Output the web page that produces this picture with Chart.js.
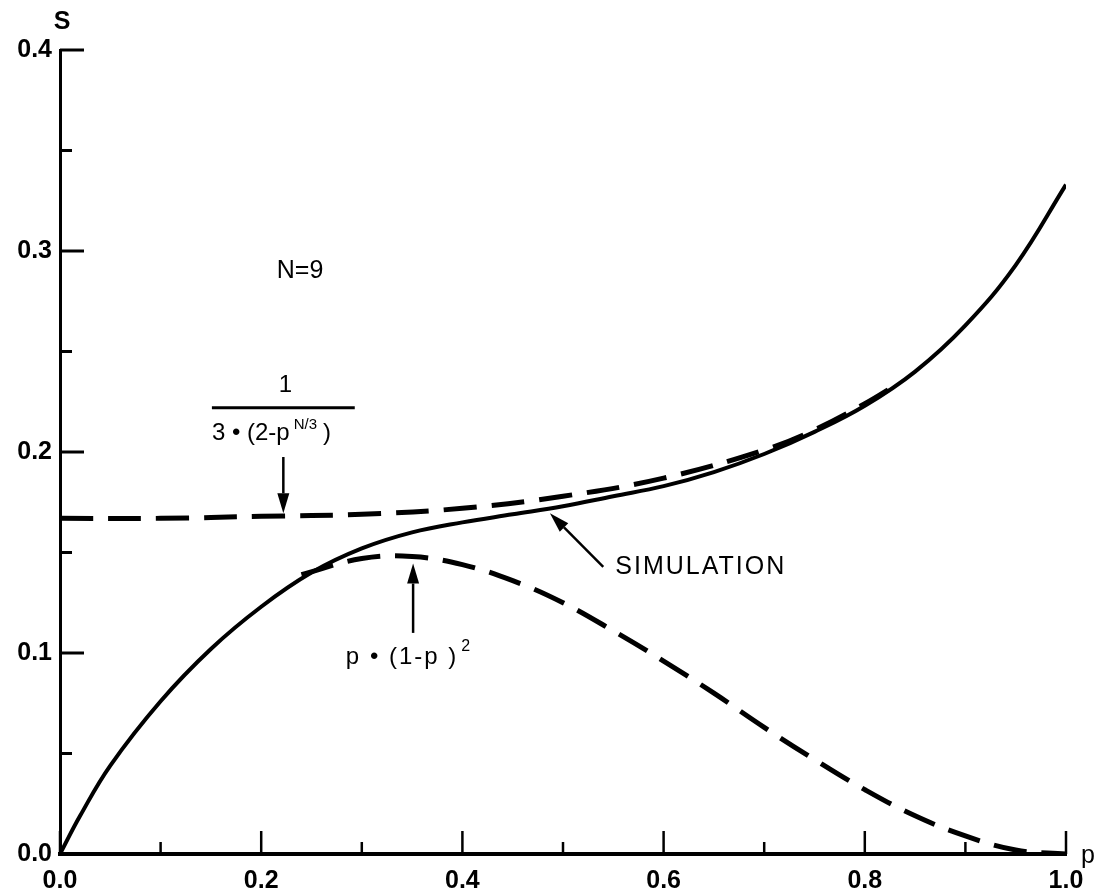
<!DOCTYPE html>
<html>
<head>
<meta charset="utf-8">
<script src="https://cdn.jsdelivr.net/npm/chart.js@4/dist/chart.umd.min.js"></script>
<style>
  body { margin: 0; background: #fff; }
  #wrap { width: 1108px; height: 895px; }
</style>
</head>
<body>
<div id="wrap"><canvas id="chart"></canvas></div>
<script>
// simulation curve (solid)
const simP = [0, 0.02, 0.05, 0.1, 0.15, 0.2, 0.25, 0.3, 0.35, 0.4, 0.45, 0.5, 0.55, 0.6, 0.65, 0.7, 0.75, 0.8, 0.85, 0.9, 0.95, 1.0];
const simS = [0, 0.019, 0.044, 0.076, 0.102, 0.123, 0.140, 0.152, 0.160, 0.165, 0.169, 0.173, 0.178, 0.183, 0.190, 0.199, 0.210, 0.223, 0.240, 0.263, 0.293, 0.333];

// 1 / (3*(2-p^(N/3))) (dashed, upper)
const upP = [0, 0.1, 0.2, 0.3, 0.4, 0.5, 0.6, 0.7, 0.75, 0.8, 0.83];
const upS = [0.167, 0.167, 0.168, 0.169, 0.172, 0.178, 0.187, 0.201, 0.211, 0.224, 0.233];

// p*(1-p)^2 (dashed, lower)
const lowP = [0.24, 0.3, 0.35, 0.4, 0.45, 0.5, 0.55, 0.6, 0.65, 0.7, 0.75, 0.8, 0.85, 0.9, 0.95, 1.0];
const lowS = [0.139, 0.147, 0.148, 0.144, 0.136, 0.125, 0.111, 0.096, 0.080, 0.063, 0.047, 0.032, 0.019, 0.009, 0.002, 0.0];

const FONT = '"Liberation Sans", Arial, Helvetica, sans-serif';

const pts = (xs, ys) => xs.map((x, i) => ({ x: x, y: ys[i] }));

function isMajorY(v) { return Math.round(v * 100) % 10 === 0; }
function isMajorX(v) { return Math.round(v * 10) % 2 === 0; }

// ticks pointing into the plot, and the text labels / arrows
const figurePlugin = {
    id: 'figure',
    afterDraw(chart) {
        const ctx = chart.ctx;
        const xs = chart.scales.x, ys = chart.scales.y;
        const a = chart.chartArea;
        const px = v => xs.getPixelForValue(v);
        const py = v => ys.getPixelForValue(v);

        ctx.save();
        ctx.strokeStyle = '#000';
        ctx.fillStyle = '#000';
        ctx.lineCap = 'butt';

        // y ticks
        ys.ticks.forEach(t => {
            const y = py(t.value);
            const len = isMajorY(t.value) ? 24 : 12;
            ctx.lineWidth = 3;
            ctx.beginPath();
            ctx.moveTo(a.left, y);
            ctx.lineTo(a.left + len, y);
            ctx.stroke();
        });
        // x ticks
        xs.ticks.forEach(t => {
            const x = px(t.value);
            const len = isMajorX(t.value) ? 23 : 12;
            ctx.lineWidth = 2.5;
            ctx.beginPath();
            ctx.moveTo(x, a.bottom);
            ctx.lineTo(x, a.bottom - len);
            ctx.stroke();
        });

        function arrow(x1, y1, x2, y2) {
            ctx.lineWidth = 2.5;
            const ang = Math.atan2(y2 - y1, x2 - x1);
            const hl = 20, hw = 6;
            const bx = x2 - hl * Math.cos(ang), by = y2 - hl * Math.sin(ang);
            ctx.beginPath();
            ctx.moveTo(x1, y1);
            ctx.lineTo(bx, by);
            ctx.stroke();
            ctx.beginPath();
            ctx.moveTo(x2, y2);
            ctx.lineTo(bx + hw * Math.sin(ang), by - hw * Math.cos(ang));
            ctx.lineTo(bx - hw * Math.sin(ang), by + hw * Math.cos(ang));
            ctx.closePath();
            ctx.fill();
        }

        ctx.textBaseline = 'middle';

        // axis names
        ctx.font = 'bold 25px ' + FONT;
        ctx.textAlign = 'center';
        ctx.fillText('S', a.left + 2, 22);
        ctx.font = '25px ' + FONT;
        ctx.textAlign = 'left';
        ctx.fillText('p', a.right + 15, a.bottom + 2);

        // N=9
        ctx.font = '25px ' + FONT;
        ctx.textAlign = 'center';
        ctx.fillText('N=9', px(0.2386), py(0.290));

        // fraction label
        ctx.font = '24px ' + FONT;
        ctx.fillText('1', px(0.224), py(0.233));
        ctx.lineWidth = 3;
        ctx.beginPath();
        ctx.moveTo(px(0.151), py(0.222));
        ctx.lineTo(px(0.293), py(0.222));
        ctx.stroke();
        ctx.textAlign = 'left';
        let x = px(0.151);
        const yb = py(0.2095);
        const part1 = '3 \u2022 (2-p';
        ctx.fillText(part1, x, yb);
        x += ctx.measureText(part1).width + 4;
        ctx.font = '15px ' + FONT;
        ctx.fillText('N/3', x, yb - 8);
        x += ctx.measureText('N/3').width + 6;
        ctx.font = '24px ' + FONT;
        ctx.fillText(')', x, yb);
        arrow(px(0.222), py(0.1975), px(0.222), py(0.1695));

        // SIMULATION
        ctx.font = '25px ' + FONT;
        ctx.letterSpacing = '2px';
        ctx.fillText('SIMULATION', px(0.552), py(0.1428));
        ctx.letterSpacing = '0px';
        arrow(px(0.540), py(0.1428), px(0.487), py(0.1695));

        // p*(1-p)^2
        ctx.font = '24px ' + FONT;
        ctx.letterSpacing = '2px';
        const part2 = 'p \u2022 (1-p )';
        const w2 = ctx.measureText(part2).width;
        let x2 = px(0.346) - w2 / 2 - 6;
        ctx.fillText(part2, x2, py(0.098));
        ctx.letterSpacing = '0px';
        ctx.font = '16px ' + FONT;
        ctx.fillText('2', x2 + w2 + 3, py(0.098) - 10);
        arrow(px(0.351), py(0.110), px(0.351), py(0.1445));

        ctx.restore();
    }
};

const lineStyle = {
    borderColor: '#000',
    pointRadius: 0,
    fill: false,
    tension: 0.4,
    showLine: true
};

new Chart(document.getElementById('chart'), {
    type: 'line',
    data: {
        datasets: [
            Object.assign({ label: 'SIMULATION', data: pts(simP, simS), borderWidth: 4 }, lineStyle),
            Object.assign({ label: '1/(3(2-p^N/3))', data: pts(upP, upS), borderWidth: 5, borderDash: [33, 15] }, lineStyle),
            Object.assign({ label: 'p(1-p)^2', data: pts(lowP, lowS), borderWidth: 5, borderDash: [33, 15] }, lineStyle)
        ]
    },
    options: {
        responsive: true,
        maintainAspectRatio: false,
        animation: false,
        layout: { padding: { top: 50, right: 42, left: 0, bottom: 0 } },
        plugins: { legend: { display: false }, tooltip: { enabled: false } },
        scales: {
            x: {
                type: 'linear',
                min: 0,
                max: 1,
                grid: { display: false, drawTicks: false },
                border: { display: true, color: '#000', width: 4 },
                afterFit(scale) { scale.height = 41; },
                ticks: {
                    stepSize: 0.1,
                    autoSkip: false,
                    maxRotation: 0,
                    padding: 12,
                    color: '#000',
                    font: { family: FONT, size: 25, weight: 'bold' },
                    callback: v => isMajorX(v) ? (Math.round(v * 10) / 10).toFixed(1) : ''
                }
            },
            y: {
                type: 'linear',
                min: 0,
                max: 0.4,
                grid: { display: false, drawTicks: false },
                border: { display: true, color: '#000', width: 3 },
                afterFit(scale) { scale.width = 60; },
                ticks: {
                    stepSize: 0.05,
                    autoSkip: false,
                    padding: 8,
                    color: '#000',
                    font: { family: FONT, size: 25, weight: 'bold' },
                    callback: v => isMajorY(v) ? (Math.round(v * 10) / 10).toFixed(1) : ''
                }
            }
        }
    },
    plugins: [figurePlugin]
});
</script>
</body>
</html>
